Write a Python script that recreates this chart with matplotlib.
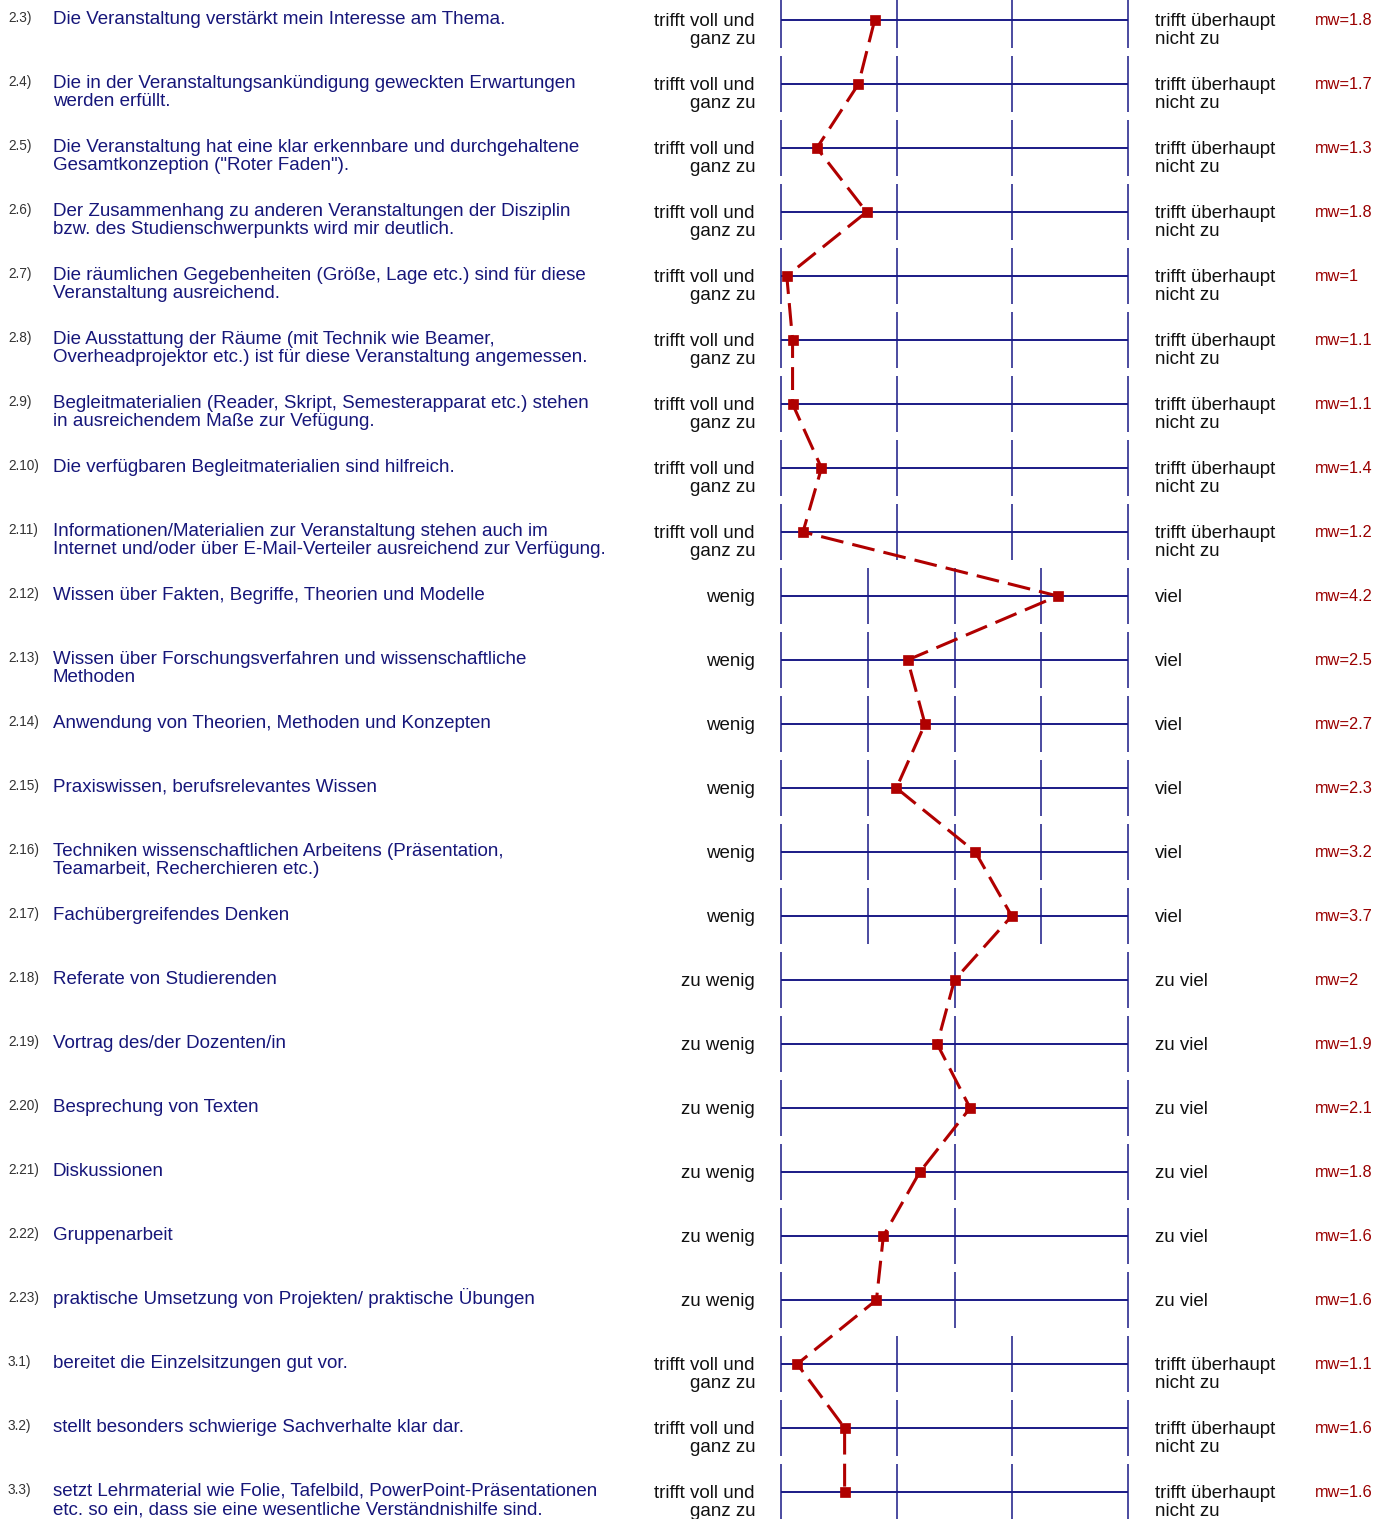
import matplotlib
matplotlib.use("Agg")
import matplotlib.pyplot as plt

# question numbers and texts
numbers = ["2.3)", "2.4)", "2.5)", "2.6)", "2.7)", "2.8)", "2.9)", "2.10)", "2.11)",
           "2.12)", "2.13)", "2.14)", "2.15)", "2.16)", "2.17)",
           "2.18)", "2.19)", "2.20)", "2.21)", "2.22)", "2.23)",
           "3.1)", "3.2)", "3.3)"]

questions = [
    "Die Veranstaltung verstärkt mein Interesse am Thema.",
    "Die in der Veranstaltungsankündigung geweckten Erwartungen\nwerden erfüllt.",
    "Die Veranstaltung hat eine klar erkennbare und durchgehaltene\nGesamtkonzeption (\"Roter Faden\").",
    "Der Zusammenhang zu anderen Veranstaltungen der Disziplin\nbzw. des Studienschwerpunkts wird mir deutlich.",
    "Die räumlichen Gegebenheiten (Größe, Lage etc.) sind für diese\nVeranstaltung ausreichend.",
    "Die Ausstattung der Räume (mit Technik wie Beamer,\nOverheadprojektor etc.) ist für diese Veranstaltung angemessen.",
    "Begleitmaterialien (Reader, Skript, Semesterapparat etc.) stehen\nin ausreichendem Maße zur Vefügung.",
    "Die verfügbaren Begleitmaterialien sind hilfreich.",
    "Informationen/Materialien zur Veranstaltung stehen auch im\nInternet und/oder über E-Mail-Verteiler ausreichend zur Verfügung.",
    "Wissen über Fakten, Begriffe, Theorien und Modelle",
    "Wissen über Forschungsverfahren und wissenschaftliche\nMethoden",
    "Anwendung von Theorien, Methoden und Konzepten",
    "Praxiswissen, berufsrelevantes Wissen",
    "Techniken wissenschaftlichen Arbeitens (Präsentation,\nTeamarbeit, Recherchieren etc.)",
    "Fachübergreifendes Denken",
    "Referate von Studierenden",
    "Vortrag des/der Dozenten/in",
    "Besprechung von Texten",
    "Diskussionen",
    "Gruppenarbeit",
    "praktische Umsetzung von Projekten/ praktische Übungen",
    "bereitet die Einzelsitzungen gut vor.",
    "stellt besonders schwierige Sachverhalte klar dar.",
    "setzt Lehrmaterial wie Folie, Tafelbild, PowerPoint-Präsentationen\netc. so ein, dass sie eine wesentliche Verständnishilfe sind.",
]

# scale type per question: (left pole, right pole, number of scale points)
scale_a = ("trifft voll und\nganz zu", "trifft überhaupt\nnicht zu", 4)
scale_b = ("wenig", "viel", 5)
scale_c = ("zu wenig", "zu viel", 3)
scales = [scale_a] * 9 + [scale_b] * 6 + [scale_c] * 6 + [scale_a] * 3

# mean values (marker positions) and the printed labels
means = [1.81, 1.67, 1.31, 1.74, 1.05, 1.10, 1.10, 1.35, 1.19,
         4.19, 2.46, 2.66, 2.33, 3.24, 3.66,
         2.00, 1.90, 2.09, 1.80, 1.59, 1.55,
         1.14, 1.55, 1.55]
mw_labels = ["1.8", "1.7", "1.3", "1.8", "1", "1.1", "1.1", "1.4", "1.2",
             "4.2", "2.5", "2.7", "2.3", "3.2", "3.7",
             "2", "1.9", "2.1", "1.8", "1.6", "1.6",
             "1.1", "1.6", "1.6"]

W, H = 1385, 1519
y0, row_h = 20, 64
x_left, x_right = 781, 1128

navy = "#1a1a86"
red = "#b00000"

plt.rcParams['font.family'] = ['Liberation Sans', 'DejaVu Sans']

fig = plt.figure(figsize=(W / 100, H / 100), dpi=100)
ax = fig.add_axes([0, 0, 1, 1])
ax.set_xlim(0, W)
ax.set_ylim(H, 0)
ax.axis("off")


def xpos(value, npts):
    return x_left + (value - 1) / (npts - 1) * (x_right - x_left)


px, py = [], []
for i, q in enumerate(questions):
    y = y0 + i * row_h
    left, right, npts = scales[i]

    # scale lines
    ax.hlines(y, x_left, x_right, color=navy, lw=1.4, zorder=1)
    ticks = [xpos(k, npts) for k in range(1, npts + 1)]
    ax.vlines(ticks, y - 28, y + 28, color=navy, lw=1.1, zorder=1)

    # texts
    ax.text(8, y + 2, numbers[i], fontsize=9.8, color="#333333", ha="left", va="baseline")
    for k, line in enumerate(q.split("\n")):
        ax.text(53, y + 3.5 + 19 * k, line, fontsize=13.5, color="#16167a",
                ha="left", va="baseline")
    for k, line in enumerate(left.split("\n")):
        ax.text(755, y + 6 + 18.5 * k, line, fontsize=13.5, color="#111111",
                ha="right", va="baseline")
    for k, line in enumerate(right.split("\n")):
        ax.text(1155, y + 6 + 18.5 * k, line, fontsize=13.5, color="#111111",
                ha="left", va="baseline")
    ax.text(1315, y + 5, "mw=" + mw_labels[i], fontsize=11.8, color="#9a0000",
            ha="left", va="baseline")

    px.append(xpos(means[i], npts))
    py.append(y)

ax.plot(px, py, color=red, lw=2.2, linestyle=(0, (7.5, 3)), zorder=3)
ax.plot(px, py, color=red, lw=0, marker="s", markersize=6.5,
        markeredgewidth=0.5, zorder=4)

fig.savefig("out.png", dpi=100)
